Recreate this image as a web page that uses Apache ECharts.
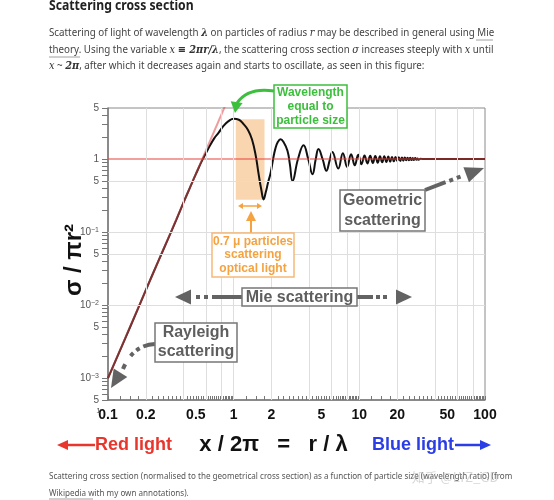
<!DOCTYPE html>
<html><head><meta charset="utf-8">
<script src="https://cdn.jsdelivr.net/npm/echarts@6/dist/echarts.min.js"></script>
<style>html,body{margin:0;padding:0;background:#fff}#c{width:554px;height:500px}</style>
</head><body><div id="c"></div>
<script>
// ---- data ----
const curveX = [0.1, 0.15, 0.2, 0.25, 0.3, 0.35, 0.4, 0.45, 0.5, 0.56, 0.63, 0.7, 0.76, 0.83, 0.91, 1.0, 1.1, 1.2, 1.3, 1.4, 1.5, 1.58, 1.66, 1.73, 1.8, 1.88, 1.97, 2.06, 2.15, 2.25, 2.36, 2.5, 2.68, 2.8, 2.94, 3.25, 3.6, 3.92, 4.24, 4.5, 4.73, 5.1, 5.47, 5.8, 6.1, 6.8, 7.4, 8.0, 8.6, 9.2, 9.8, 10.4, 11.0, 11.6, 12.2, 12.8, 13.4, 14.0, 14.6, 15.2, 15.8, 16.4, 17.0, 17.6, 18.2, 18.8, 19.4, 20.0, 20.6, 21.2, 21.8, 22.4, 23.0, 23.6, 24.2, 24.8, 25.4, 26.0, 26.6, 27.2, 27.8, 28.4, 29.0, 29.6, 30.8, 32, 40, 60, 100];
const curveY = [0.001, 0.005, 0.016, 0.039, 0.08, 0.148, 0.256, 0.41, 0.62, 0.95, 1.4, 1.92, 2.3, 2.85, 3.3, 3.55, 3.45, 3.0, 2.5, 1.85, 1.1, 0.62, 0.38, 0.28, 0.35, 0.48, 0.65, 1.0, 1.4, 1.72, 1.87, 1.7, 1.3, 0.85, 0.5, 1.0, 1.55, 1.0, 0.62, 1.0, 1.37, 1.0, 0.69, 0.95, 1.25, 0.74, 1.2, 0.78, 1.16, 0.82, 1.14, 0.85, 1.12, 0.87, 1.11, 0.88, 1.1, 0.89, 1.09, 0.9, 1.09, 0.91, 1.08, 0.92, 1.07, 0.93, 1.07, 0.94, 1.06, 0.94, 1.05, 0.95, 1.05, 0.96, 1.04, 0.96, 1.04, 0.97, 1.03, 0.97, 1.03, 0.98, 1.02, 0.98, 1.01, 1.0, 1.0, 1.0, 1.0];
const rayleighX = [0.1, 0.9];
const rayleighY = [0.001, 6.56];
const geometricX = [0.1, 100];
const geometricY = [1, 1];
const bandCorners = [[1.04, 3.5], [1.76, 0.276]];
const xLabelValues = [0.1, 0.2, 0.5, 1, 2, 5, 10, 20, 50, 100];
const xGridValues = [0.2, 0.4, 0.6, 0.8, 1, 2, 4, 6, 8, 10, 20, 40, 60, 80];
const yLabelValues = [0.0005, 0.001, 0.005, 0.01, 0.05, 0.1, 0.5, 1, 5];
const yLabelTexts = ['{b|5}', '{b|10}{s|−3}', '{b|5}', '{b|10}{s|−2}', '{b|5}', '{b|10}{s|−1}', '{b|5}', '{b|1}', '{b|5}'];
const yGridValues = [0.001, 0.005, 0.01, 0.05, 0.1, 0.5];
const yTickValues = [0.0005,0.0006,0.0007,0.0008,0.0009,0.001,0.002,0.003,0.004,0.005,0.006,0.007,0.008,0.009,0.01,0.02,0.03,0.04,0.05,0.06,0.07,0.08,0.09,0.1,0.2,0.3,0.4,0.5,0.6,0.7,0.8,0.9,1,2,3,4,5];
// x-axis minor tick marks: quarter-unit steps inside each decade
const xDecades = [0.1, 1, 10];
const xTickSteps = 0.25;
const xTickValues = [];
xDecades.forEach(d => { for (let k = 1; k < 10; k += xTickSteps) xTickValues.push(+(d * k).toPrecision(6)); });
xTickValues.push(100);

const zip = (a, b) => a.map((v, i) => [v, b[i]]);

const gray = '#636363';
const green = '#3cbf3c';
const orange = '#f4a340';
const SANS = '"Liberation Sans", Arial, sans-serif';
const BODY = '"Noto Sans", sans-serif';

function txt(x, y, text, style, extra) {
  return Object.assign({ type: 'text', x: x, y: y, silent: true, z: 100,
    style: Object.assign({ text: text, align: 'left', verticalAlign: 'middle' }, style) }, extra || {});
}
function rect(x, y, w, h, stroke, lw) {
  return { type: 'rect', silent: true, z: 99, shape: { x: x, y: y, width: w, height: h },
    style: { fill: '#fff', stroke: stroke, lineWidth: lw || 1.5 } };
}
function seg(x1, y1, x2, y2, color, lw, dash) {
  return { type: 'line', silent: true, z: 99, shape: { x1: x1, y1: y1, x2: x2, y2: y2 },
    style: { stroke: color, lineWidth: lw, lineDash: dash || null } };
}
function head(tx, ty, fx, fy, len, hw, color) {
  const dx = tx - fx, dy = ty - fy, d = Math.hypot(dx, dy);
  const ux = dx / d, uy = dy / d;
  const bx = tx - ux * len, by = ty - uy * len;
  return { type: 'polygon', silent: true, z: 100,
    shape: { points: [[tx, ty], [bx - uy * hw, by + ux * hw], [bx + uy * hw, by - ux * hw]] },
    style: { fill: color } };
}
const mathRich = {
  b: { fontFamily: '"DejaVu Serif"', fontWeight: 'bold', fontStyle: 'italic', fontSize: 11, fill: '#333' },
  i: { fontFamily: '"DejaVu Serif"', fontStyle: 'italic', fontSize: 11, fill: '#333' }
};
const bodyScale = { scaleX: 0.89 };

const graphics = [
  // header text
  txt(49, 6, 'Scattering cross section', { font: 'bold 14px ' + BODY, fill: '#222' }, { scaleX: 0.87 }),
  txt(49, 33, 'Scattering of light of wavelength {b|λ} on particles of radius {i|r} may be described in general using Mie',
    { font: '11px ' + BODY, fill: '#444', rich: mathRich }, bodyScale),
  txt(49, 50, 'theory. Using the variable {i|x} {b|≡ 2πr/λ}, the scattering cross section {i|σ} increases steeply with {i|x} until',
    { font: '11px ' + BODY, fill: '#444', rich: mathRich }, bodyScale),
  txt(49, 66, '{i|x} ~ {b|2π}, after which it decreases again and starts to oscillate, as seen in this figure:',
    { font: '11px ' + BODY, fill: '#444', rich: mathRich }, bodyScale),
  seg(476, 40, 493, 40, '#888', 0.8),
  seg(49, 57, 80, 57, '#888', 0.8),

  // green annotation
  rect(274, 85, 73, 43, green, 1.5),
  txt(310.5, 107, 'Wavelength\nequal to\nparticle size', { font: 'bold 12px ' + SANS, fill: green, align: 'center', lineHeight: 14 }),
  { type: 'bezierCurve', silent: true, z: 99, shape: { x1: 274, y1: 91, cpx1: 248, cpy1: 87, x2: 237, y2: 103 }, style: { stroke: green, lineWidth: 3, fill: null } },
  head(235, 113, 237, 100, 11, 6, green),

  // orange annotation
  seg(242, 206, 258, 206, orange, 1.5),
  head(238, 206, 250, 206, 5, 3, orange),
  head(262, 206, 250, 206, 5, 3, orange),
  seg(251, 233, 251, 220, orange, 2),
  head(251, 211, 251, 225, 10, 5, orange),
  rect(212, 233, 82, 44, '#f6b878', 1.5),
  txt(253, 255, '0.7 μ particles\nscattering\noptical light', { font: 'bold 12px ' + SANS, fill: orange, align: 'center', lineHeight: 13.5 }),

  // Geometric scattering
  seg(425, 190, 466, 174.5, gray, 4, [22, 4, 4, 4, 4, 10]),
  head(484, 168, 425, 190, 19, 8, gray),
  rect(340, 190, 85, 41, '#777', 1.5),
  txt(382.5, 210.5, 'Geometric\nscattering', { font: 'bold 16px ' + SANS, fill: '#5e5e5e', align: 'center', lineHeight: 20 }),

  // Mie scattering
  seg(242, 297, 191, 297, gray, 4, [30, 4, 4, 4, 4, 8]),
  head(175, 297, 195, 297, 16, 7.5, gray),
  seg(357, 297, 396, 297, gray, 4, [16, 3, 4, 3, 4, 10]),
  head(412, 297, 390, 297, 16, 7.5, gray),
  rect(242, 288, 115, 18, '#777', 1.5),
  txt(299.5, 297.5, 'Mie scattering', { font: 'bold 16px ' + SANS, fill: '#5e5e5e', align: 'center' }),

  // Rayleigh scattering
  { type: 'bezierCurve', silent: true, z: 99, shape: { x1: 155, y1: 344, cpx1: 133, cpy1: 345, x2: 123, y2: 369 }, style: { stroke: gray, lineWidth: 4, fill: null, lineDash: [12, 4, 4, 4, 4, 10] } },
  head(111, 388, 124, 367, 18, 8, gray),
  rect(155, 323, 82, 39, '#777', 1.5),
  txt(196, 342.5, 'Rayleigh\nscattering', { font: 'bold 16px ' + SANS, fill: '#5e5e5e', align: 'center', lineHeight: 19 }),

  // y-axis title
  txt(74, 260, 'σ / πr²', { font: 'bold 24px ' + SANS, fill: '#111', align: 'center' }, { rotation: Math.PI / 2 }),
  // stray "1" in front of 0.1
  txt(98.5, 411, '1', { font: '8px ' + SANS, fill: '#555', align: 'center' }),

  // bottom row
  seg(64, 445, 95, 445, '#e8362c', 2.5),
  head(57, 445, 70, 445, 11, 5, '#e8362c'),
  txt(95, 445, 'Red light', { font: 'bold 18px ' + SANS, fill: '#e8362c' }),
  txt(273.5, 445, 'x / 2π   =   r / λ', { font: 'bold 22px ' + SANS, fill: '#111', align: 'center' }),
  txt(372, 445, 'Blue light', { font: 'bold 18px ' + SANS, fill: '#2b3ee6' }),
  seg(455, 445, 482, 445, '#2b3ee6', 2.5),
  head(491, 445, 478, 445, 11, 5, '#2b3ee6'),

  // caption
  txt(49, 476, 'Scattering cross section (normalised to the geometrical cross section) as a function of particle size (wavelength ratio) (from',
    { font: '9.5px ' + BODY, fill: '#555' }, { scaleX: 0.85 }),
  txt(49, 493, 'Wikipedia with my own annotations).', { font: '9.5px ' + BODY, fill: '#555' }, { scaleX: 0.85 }),
  seg(49, 499, 93, 499, '#888', 0.8),
  txt(455, 477, '知乎 @LYZ_GD', { font: '13px "Noto Sans CJK SC"', fill: 'rgba(175,175,175,0.5)', align: 'center' })
];

const chart = echarts.init(document.getElementById('c'), null, { renderer: 'canvas' });
chart.setOption({
  animation: false,
  backgroundColor: '#fff',
  grid: { left: 108, right: 69, top: 108, bottom: 100, show: true, borderColor: '#8a8a8a', borderWidth: 1 },
  xAxis: {
    type: 'log', logBase: 10, min: 0.1, max: 100,
    axisLine: { show: true, lineStyle: { color: '#777', width: 1.5 } },
    axisTick: { show: true, inside: true, customValues: xTickValues, length: 4, lineStyle: { color: '#777' } },
    axisLabel: { customValues: xLabelValues, margin: 8, color: '#111', fontWeight: 'bold', fontSize: 14, fontFamily: SANS,
      formatter: v => String(+v.toPrecision(3)) },
    splitLine: { show: false }
  },
  yAxis: {
    type: 'log', logBase: 10, min: 0.0005, max: 5,
    axisLine: { show: true, lineStyle: { color: '#777', width: 1.5 } },
    axisTick: { show: true, customValues: yTickValues, length: 6, lineStyle: { color: '#777' } },
    axisLabel: { customValues: yLabelValues, margin: 9, fontFamily: SANS,
      rich: { b: { fontSize: 10, color: '#555', fontFamily: SANS }, s: { fontSize: 7, color: '#555', fontFamily: SANS, verticalAlign: 'top', padding: [0, 0, 4, 0] } },
      formatter: v => { let best = 0; yLabelValues.forEach((u, i) => { if (Math.abs(Math.log10(u) - Math.log10(v)) < Math.abs(Math.log10(yLabelValues[best]) - Math.log10(v))) best = i; }); return yLabelTexts[best]; } },
    splitLine: { show: false }
  },
  series: [
    { type: 'line', data: [], silent: true,
      markLine: { silent: true, symbol: ['none', 'none'], label: { show: false },
        lineStyle: { color: '#dedede', type: 'solid', width: 1 },
        data: xGridValues.map(v => ({ xAxis: v })).concat(yGridValues.map(v => ({ yAxis: v }))) },
      markArea: { silent: true, itemStyle: { color: 'rgba(246,180,112,0.55)' },
        data: [[{ coord: bandCorners[0] }, { coord: bandCorners[1] }]] } },
    { type: 'line', data: zip(curveX, curveY), smooth: 0.45, showSymbol: false, silent: true,
      lineStyle: { color: '#111', width: 2 } },
    { type: 'line', data: zip(rayleighX, rayleighY), showSymbol: false, silent: true, clip: true,
      lineStyle: { color: '#e04a4a', width: 2, opacity: 0.55 } },
    { type: 'line', data: zip(geometricX, geometricY), showSymbol: false, silent: true,
      lineStyle: { color: '#e8403a', width: 1.2 } }
  ],
  graphic: graphics
});
</script></body></html>
